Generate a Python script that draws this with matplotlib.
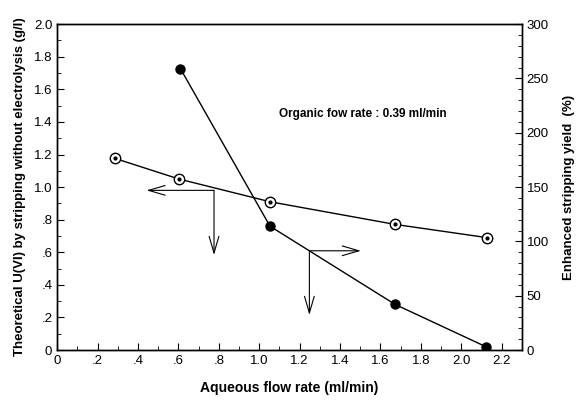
import matplotlib
matplotlib.use("Agg")
import matplotlib.pyplot as plt
from matplotlib.ticker import MultipleLocator, FixedLocator

plt.rcParams['font.family'] = ['Liberation Sans', 'DejaVu Sans']

# Enhanced stripping yield (%) - filled circles, right axis
yield_x = [0.61, 1.053, 1.672, 2.122]
yield_y = [259, 114, 42, 3]

# Theoretical U(VI) (g/l) - open dotted circles, left axis
u_x = [0.286, 0.604, 1.053, 1.672, 2.126]
u_y = [1.176, 1.049, 0.91, 0.771, 0.69]

xticks = [0, 0.2, 0.4, 0.6, 0.8, 1.0, 1.2, 1.4, 1.6, 1.8, 2.0, 2.2]
xtick_labels = ["0", ".2", ".4", ".6", ".8", "1.0", "1.2", "1.4", "1.6", "1.8", "2.0", "2.2"]
yticks = [0, 0.2, 0.4, 0.6, 0.8, 1.0, 1.2, 1.4, 1.6, 1.8, 2.0]
ytick_labels = ["0", ".2", ".4", ".6", ".8", "1.0", "1.2", "1.4", "1.6", "1.8", "2.0"]
y2ticks = [0, 50, 100, 150, 200, 250, 300]

fig = plt.figure(figsize=(5.78, 4.03), dpi=100)
ax = fig.add_axes([0.099, 0.1315, 0.804, 0.8085])
ax2 = ax.twinx()

ax.set_xlim(0, 2.3)
ax.set_ylim(0, 2.0)
ax2.set_ylim(0, 300)

ax.plot(u_x, u_y, color='black', lw=1.0, marker='o', ms=7.5, mfc='white', mec='black', mew=1.0, zorder=3)
ax.plot(u_x, u_y, ls='none', marker='o', ms=2, color='black', zorder=4)
ax2.plot(yield_x, yield_y, color='black', lw=1.0, marker='o', ms=6.5, mfc='black', mec='black', zorder=3)

arrow = dict(arrowstyle='->,head_length=1.2,head_width=0.35', color='black', lw=0.8, shrinkA=0, shrinkB=0)
# left-pointing arrow and down arrow
ax.annotate('', xy=(0.442, 0.98), xytext=(0.776, 0.98), arrowprops=arrow)
ax.annotate('', xy=(0.776, 0.583), xytext=(0.776, 0.98), arrowprops=arrow)
# right-pointing arrow and down arrow
ax.annotate('', xy=(1.503, 0.609), xytext=(1.248, 0.609), arrowprops=arrow)
ax.annotate('', xy=(1.248, 0.215), xytext=(1.248, 0.609), arrowprops=arrow)

ax.text(1.1, 1.45, 'Organic fow rate : 0.39 ml/min', fontsize=8.5, fontweight='bold', va='center')

ax.xaxis.set_major_locator(FixedLocator(xticks))
ax.set_xticklabels(xtick_labels)
ax.xaxis.set_minor_locator(MultipleLocator(0.1))
ax.yaxis.set_major_locator(FixedLocator(yticks))
ax.set_yticklabels(ytick_labels)
ax.yaxis.set_minor_locator(MultipleLocator(0.1))
ax2.yaxis.set_major_locator(FixedLocator(y2ticks))
ax2.yaxis.set_minor_locator(MultipleLocator(10))

ax.tick_params(which='both', direction='in', top=False, labelsize=9.5)
ax.tick_params(which='major', length=5)
ax.tick_params(which='minor', length=3)
ax2.tick_params(which='both', direction='in', labelsize=9.5)
ax2.tick_params(which='major', length=5)
ax2.tick_params(which='minor', length=3)

ax.set_xlabel('Aqueous flow rate (ml/min)', fontsize=10, fontweight='bold', labelpad=10)
ax.set_ylabel('Theoretical U(VI) by stripping without electrolysis (g/l)', fontsize=9.5, fontweight='bold', labelpad=6)
ax2.set_ylabel('Enhanced stripping yield  (%)', fontsize=9.5, fontweight='bold', labelpad=10)

for a in (ax, ax2):
    for s in a.spines.values():
        s.set_linewidth(1.0)

fig.savefig('out.png', dpi=100)
